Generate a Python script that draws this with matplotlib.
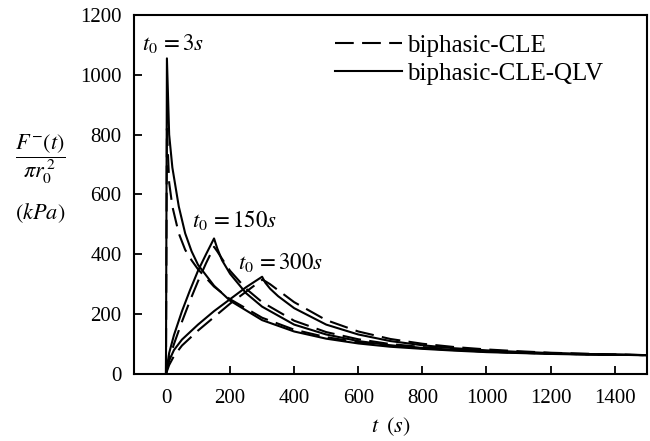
import numpy as np
import matplotlib.pyplot as plt

plt.rcParams['font.family'] = ['Liberation Serif', 'DejaVu Serif']
plt.rcParams['mathtext.fontset'] = 'stix'

# t0 = 3 s
t3 = [0, 3, 10, 20, 40, 60, 80, 100, 150, 200, 300, 400, 500, 600, 700, 800, 900, 1000, 1100, 1200, 1300, 1400, 1500]
qlv3 = [0, 1055, 800, 690, 560, 470, 410, 365, 295, 245, 180, 142, 118, 102, 91, 84, 78, 73, 70, 67, 65, 64, 63]
cle3 = [0, 820, 640, 560, 470, 415, 380, 350, 292, 250, 188, 148, 123, 106, 94, 86, 80, 75, 71, 68, 66, 64, 63]

# t0 = 150 s
t150 = [0, 10, 25, 50, 75, 100, 125, 150, 160, 175, 200, 250, 300, 400, 500, 600, 700, 800, 900, 1000, 1100, 1200, 1300, 1400, 1500]
qlv150 = [0, 70, 130, 210, 280, 345, 400, 453, 420, 380, 335, 270, 225, 165, 132, 110, 96, 87, 80, 75, 71, 68, 66, 64, 63]
cle150 = [0, 50, 100, 175, 245, 310, 370, 425, 410, 385, 345, 285, 240, 178, 140, 116, 100, 90, 82, 76, 72, 69, 66, 64, 63]

# t0 = 300 s
t300 = [0, 10, 25, 50, 100, 150, 200, 250, 300, 310, 325, 350, 400, 500, 600, 700, 800, 900, 1000, 1100, 1200, 1300, 1400, 1500]
qlv300 = [0, 45, 80, 115, 165, 210, 250, 290, 325, 305, 285, 260, 220, 165, 132, 110, 96, 86, 79, 74, 70, 67, 65, 63]
cle300 = [0, 30, 60, 95, 145, 190, 235, 275, 315, 310, 300, 280, 240, 180, 142, 117, 101, 90, 82, 76, 71, 68, 65, 63]

fig = plt.figure(figsize=(6.5, 4.41), dpi=100)
ax = fig.add_axes([0.206, 0.152, 0.789, 0.814])

lw = 1.5
ax.plot(t3, cle3, 'k', dashes=(9, 4), lw=lw, label='biphasic-CLE')
ax.plot(t3, qlv3, 'k-', lw=lw, label='biphasic-CLE-QLV')
ax.plot(t150, cle150, 'k', dashes=(9, 4), lw=lw)
ax.plot(t150, qlv150, 'k-', lw=lw)
ax.plot(t300, cle300, 'k', dashes=(9, 4), lw=lw)
ax.plot(t300, qlv300, 'k-', lw=lw)

ax.set_xlim(-100, 1500)
ax.set_ylim(0, 1200)
ax.set_xticks(np.arange(0, 1401, 200))
ax.set_yticks(np.arange(0, 1201, 200))
ax.tick_params(direction='in', length=6, width=1.3, labelsize=15)
ax.tick_params(axis='x', pad=11)
ax.tick_params(axis='y', pad=9)
ax.tick_params(top=False, right=False)
for s in ax.spines.values():
    s.set_linewidth(1.5)

ax.text(-75, 1105, r'$t_{\mathrm{0}}\,=3s$', fontsize=16.5, va='center')
ax.text(81, 515, r'$t_{\mathrm{0}}\,=150s$', fontsize=16.5, va='center')
ax.text(225, 374, r'$t_{\mathrm{0}}\,=300s$', fontsize=16.5, va='center')

ax.set_xlabel(r'$t\;\;(s)$', fontsize=16, labelpad=5)
fig.text(0.062, 0.64, r'$\dfrac{F^{-}(t)}{\pi r_{\mathrm{0}}^{\,2}}$', fontsize=16, ha='center', va='center')
fig.text(0.062, 0.517, r'$(kPa)$', fontsize=16, ha='center', va='center')

ax.legend(loc='upper left', bbox_to_anchor=(0.392, 0.945), frameon=False, fontsize=18,
          handlelength=2.7, handletextpad=0.2, labelspacing=0.2,
          borderpad=0, borderaxespad=0)

fig.savefig('out.png', dpi=100)
